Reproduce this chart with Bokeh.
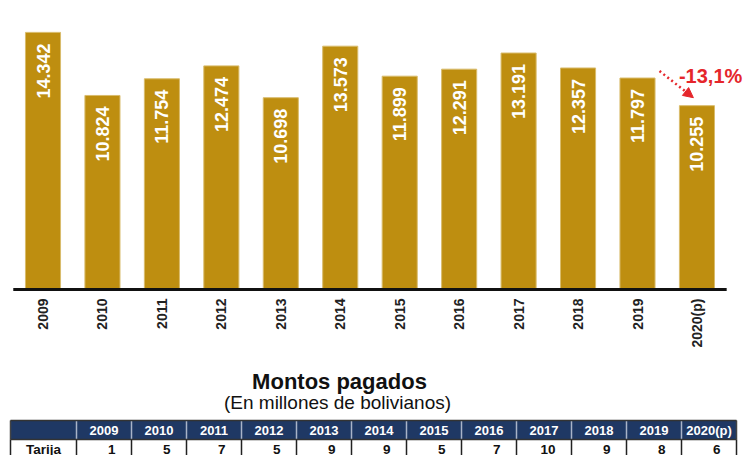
import math
from bokeh.plotting import figure
from bokeh.models import Range1d, FixedTicker, Arrow, NormalHead, ColumnDataSource
from bokeh.layouts import column
from bokeh.core.properties import value
from bokeh.embed import file_html
from bokeh.resources import INLINE

# ---------------- data ----------------
years = ["2009", "2010", "2011", "2012", "2013", "2014", "2015", "2016",
         "2017", "2018", "2019", "2020(p)"]
amounts = [14342, 10824, 11754, 12474, 10698, 13573, 11899, 12291,
           13191, 12357, 11797, 10255]
table_title = "Montos pagados"
table_subtitle = "(En millones de bolivianos)"
row_label = "Tarija"
row_values = [1, 5, 7, 5, 9, 9, 5, 7, 10, 9, 8, 6]

# ---------------- styles ----------------
GOLD = "#BE8E10"
RED = "#E5262B"
NAVY = "#1F3864"
FONT = value("Liberation Sans")

W = 745
H1 = 350
B1 = 58
frame_h = H1 - B1
px_per_cat = 59.45
first_center_px = 42.5
upp = 14342 / 258.0  # data units per pixel

idx = list(range(len(years)))
x_start = -first_center_px / px_per_cat
x_end = x_start + W / px_per_cat
y_start = -2 * upp
y_end = y_start + frame_h * upp

p1 = figure(width=W, height=H1, x_range=Range1d(x_start, x_end),
            y_range=Range1d(y_start, y_end), output_backend="svg",
            toolbar_location=None, y_axis_location=None,
            min_border_left=0, min_border_right=0, min_border_top=0,
            min_border_bottom=B1, outline_line_color=None)
p1.xgrid.visible = False
p1.ygrid.visible = False
ax = p1.xaxis[0]
ax.ticker = FixedTicker(ticks=idx)
ax.major_label_overrides = {i: y for i, y in enumerate(years)}
ax.major_label_orientation = math.pi / 2
ax.major_label_standoff = 7
ax.major_tick_out = 0
ax.major_tick_in = 0
ax.minor_tick_out = 0
ax.minor_tick_in = 0
ax.axis_line_color = None
ax.major_label_text_font = "Liberation Sans"
ax.major_label_text_font_style = "bold"
ax.major_label_text_font_size = "14px"
ax.major_label_text_color = "#222222"

labels = [f"{v:,}".replace(",", ".") for v in amounts]
src = ColumnDataSource(dict(x=idx, top=amounts, label=labels))

p1.vbar(x="x", top="top", bottom=0, width=0.59, source=src,
        fill_color=GOLD, line_color="#D9BC6C", line_width=1)
p1.segment(x0=[-0.5], x1=[len(years) - 0.5], y0=[0], y1=[0],
           line_color="#111111", line_width=3)
p1.text(x="x", y="top", text="label", source=src, angle=math.pi / 2,
        text_align="right", text_baseline="middle", y_offset=11,
        text_color="white", text_font=FONT, text_font_style="bold",
        text_font_size="18px")

pct = (amounts[-1] / amounts[-2] - 1) * 100
pct_txt = f"{pct:.1f}".replace(".", ",") + "%"
p1.text(x=[idx[-1]], y=[amounts[-2]], text=[pct_txt], x_offset=-18, y_offset=-2,
        text_align="left", text_baseline="alphabetic", text_color=RED,
        text_font=FONT, text_font_style="bold", text_font_size="20px")
p1.add_layout(Arrow(x_start=idx[-2] + 0.37, y_start=amounts[-2] + 7 * upp,
                    x_end=idx[-1] - 0.06, y_end=amounts[-1] + 8 * upp,
                    line_color=RED, line_width=2.5, line_dash="2 3",
                    end=NormalHead(size=10, fill_color=RED, line_color=RED,
                                   line_width=1)))

# ---------------- title + table ----------------
H2 = 105
p2 = figure(width=W, height=H2, x_range=Range1d(0, W), y_range=Range1d(H2, 0),
            output_backend="svg", toolbar_location=None,
            x_axis_location=None, y_axis_location=None,
            min_border_left=0, min_border_right=0, min_border_top=0,
            min_border_bottom=0, outline_line_color=None)
p2.xgrid.visible = False
p2.ygrid.visible = False

p2.text(x=[339], y=[31], text=[table_title], text_align="center",
        text_baseline="alphabetic", text_color="#111111", text_font=FONT,
        text_font_style="bold", text_font_size="22px")
p2.text(x=[337], y=[52], text=[table_subtitle], text_align="center",
        text_baseline="alphabetic", text_color="#111111", text_font=FONT,
        text_font_size="19px")

t_left = 10
first_w = 66
col_w = 55
t_top = 70
h_bot = 89
r_bot = 120
n = len(years)
col_left = [t_left + first_w + k * col_w for k in range(n)]
t_right = t_left + first_w + n * col_w

p2.quad(left=[t_left], right=[t_right], top=[t_top], bottom=[h_bot],
        fill_color=NAVY, line_color=None)
p2.segment(x0=col_left, x1=col_left, y0=[t_top] * n, y1=[h_bot] * n,
           line_color="#A9B3C8", line_width=1.5)
vx = [t_left] + col_left + [t_right]
p2.segment(x0=vx, x1=vx, y0=[h_bot] * len(vx), y1=[r_bot] * len(vx),
           line_color="#222222", line_width=1.5)
p2.segment(x0=[t_left, t_right], x1=[t_left, t_right], y0=[t_top, t_top],
           y1=[h_bot, h_bot], line_color="#444444", line_width=1.5)
p2.segment(x0=[t_left, t_left], x1=[t_right, t_right], y0=[t_top, h_bot],
           y1=[t_top, h_bot], line_color="#333333", line_width=1.5)

centers = [c + col_w / 2 for c in col_left]
p2.text(x=centers, y=[(t_top + h_bot) / 2] * n, text=years,
        text_align="center", text_baseline="middle", text_color="white",
        text_font=FONT, text_font_style="bold", text_font_size="13px")
p2.text(x=[t_left + first_w / 2], y=[h_bot + 9.5], text=[row_label],
        text_align="center", text_baseline="middle", text_color="#111111",
        text_font=FONT, text_font_style="bold", text_font_size="13.5px")
p2.text(x=[c + col_w - 16 for c in col_left], y=[h_bot + 9.5] * n,
        text=[str(v) for v in row_values], text_align="right",
        text_baseline="middle", text_color="#111111", text_font=FONT,
        text_font_style="bold", text_font_size="13.5px")

layout = column(p1, p2, spacing=0)
open("out.html", "w").write(file_html(layout, INLINE))
